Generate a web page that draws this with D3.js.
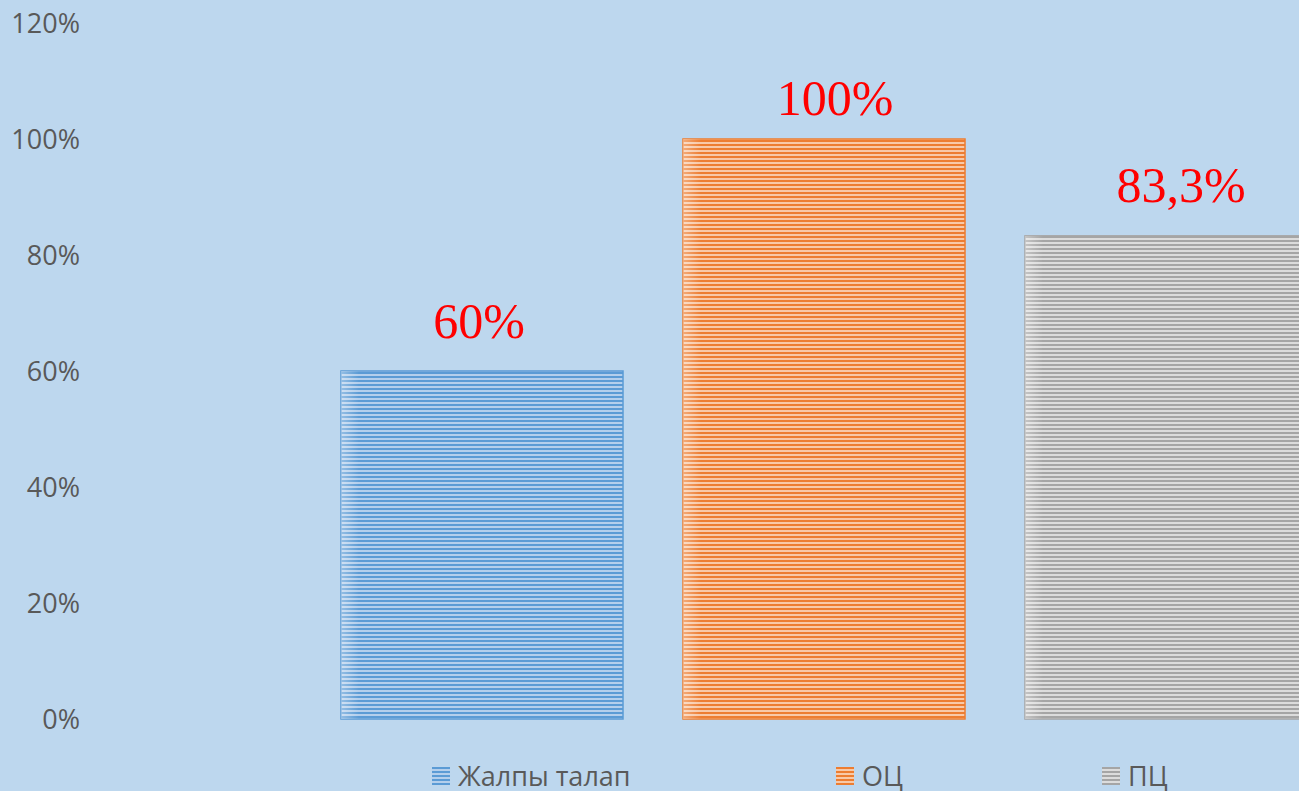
<!DOCTYPE html>
<html lang="kk">
<head>
    <meta charset="UTF-8">
    <title>Жалпы талап / ОЦ / ПЦ</title>
    <script src="https://d3js.org/d3.v7.min.js"></script>
    <style>
        html, body {
            margin: 0;
            padding: 0;
            background: #bdd7ee;
            overflow: hidden;
        }
        .tick-label {
            font-family: "Open Sans", "Liberation Sans", sans-serif;
            font-size: 27px;
            fill: #595959;
        }
        .legend-text {
            font-family: "Open Sans", "Liberation Sans", sans-serif;
            font-size: 27px;
            fill: #595959;
        }
        .value-label {
            font-family: "Liberation Serif", "Times New Roman", serif;
            font-size: 50px;
            fill: #ff0000;
        }
    </style>
</head>
<body>
    <div id="chart"></div>

    <script>
        // data
        const seriesNames = ["Жалпы талап", "ОЦ", "ПЦ"];
        const seriesValues = [0.60, 1.00, 0.833];
        const valueLabels = ["60%", "100%", "83,3%"];
        const yTicks = [0, 0.2, 0.4, 0.6, 0.8, 1.0, 1.2];

        // colours for the striped fills: [dark stripe, light stripe, border]
        const palette = [
            ["#5b9bd5", "#b4cfec", "#5b9bd5"],
            ["#ed7d31", "#f8c9a8", "#ed7d31"],
            ["#a5a5a5", "#dcdcdc", "#a5a5a5"]
        ];
        // labels were hand-placed in the original, small nudges (px)
        const labelNudgeX = [-3, 11, 15];
        const labelNudgeY = [-33, -24, -34];

        const width = 1299, height = 791;

        const svg = d3.select("#chart")
            .append("svg")
            .attr("width", width)
            .attr("height", height);

        svg.append("rect")
            .attr("width", width)
            .attr("height", height)
            .attr("fill", "#bdd7ee");

        const defs = svg.append("defs");

        // horizontal stripe patterns
        palette.forEach((c, i) => {
            const p = defs.append("pattern")
                .attr("id", "stripe" + i)
                .attr("patternUnits", "userSpaceOnUse")
                .attr("width", 8)
                .attr("height", 4);
            p.append("rect").attr("width", 8).attr("height", 4).attr("fill", c[1]);
            p.append("rect").attr("width", 8).attr("height", 2).attr("fill", c[0]);
        });

        // soft light edge on the left of each bar
        const glow = defs.append("linearGradient")
            .attr("id", "edgeGlow")
            .attr("x1", "0%").attr("x2", "100%");
        glow.append("stop").attr("offset", "0%").attr("stop-color", "#fff").attr("stop-opacity", 0.35);
        glow.append("stop").attr("offset", "100%").attr("stop-color", "#fff").attr("stop-opacity", 0);

        const y = d3.scaleLinear()
            .domain([0, 1.2])
            .range([719, 23]);

        const x = d3.scaleBand()
            .domain(seriesNames)
            .range([341, 1307])
            .paddingInner(0.1754)
            .paddingOuter(0);

        // y axis labels (no line, no gridlines)
        svg.append("g")
            .selectAll("text")
            .data(yTicks)
            .join("text")
            .attr("class", "tick-label")
            .attr("x", 80)
            .attr("y", d => y(d))
            .attr("dy", "0.36em")
            .attr("text-anchor", "end")
            .text(d => d3.format(".0%")(d));

        // bars
        const bars = svg.append("g")
            .selectAll("g")
            .data(seriesNames)
            .join("g");

        bars.append("rect")
            .attr("x", d => x(d))
            .attr("y", (d, i) => y(seriesValues[i]))
            .attr("width", x.bandwidth())
            .attr("height", (d, i) => y(0) - y(seriesValues[i]))
            .attr("fill", (d, i) => `url(#stripe${i})`)
            .attr("stroke", (d, i) => palette[i][2])
            .attr("stroke-width", 1.5);

        bars.append("rect")
            .attr("x", d => x(d))
            .attr("y", (d, i) => y(seriesValues[i]))
            .attr("width", 18)
            .attr("height", (d, i) => y(0) - y(seriesValues[i]))
            .attr("fill", "url(#edgeGlow)");

        // value labels
        bars.append("text")
            .attr("class", "value-label")
            .attr("x", d => x(d) + x.bandwidth() / 2)
            .attr("dx", (d, i) => labelNudgeX[i])
            .attr("y", (d, i) => y(seriesValues[i]) + labelNudgeY[i])
            .attr("text-anchor", "middle")
            .text((d, i) => valueLabels[i]);

        // legend
        const legendX = [432, 836, 1102];
        const legend = svg.append("g")
            .selectAll("g")
            .data(seriesNames)
            .join("g")
            .attr("transform", (d, i) => `translate(${legendX[i]}, 767)`);

        legend.append("rect")
            .attr("width", 18)
            .attr("height", 18)
            .attr("fill", (d, i) => `url(#stripe${i})`);

        legend.append("text")
            .attr("class", "legend-text")
            .attr("x", 26)
            .attr("y", 9)
            .attr("dy", "0.36em")
            .text(d => d);
    </script>
</body>
</html>
